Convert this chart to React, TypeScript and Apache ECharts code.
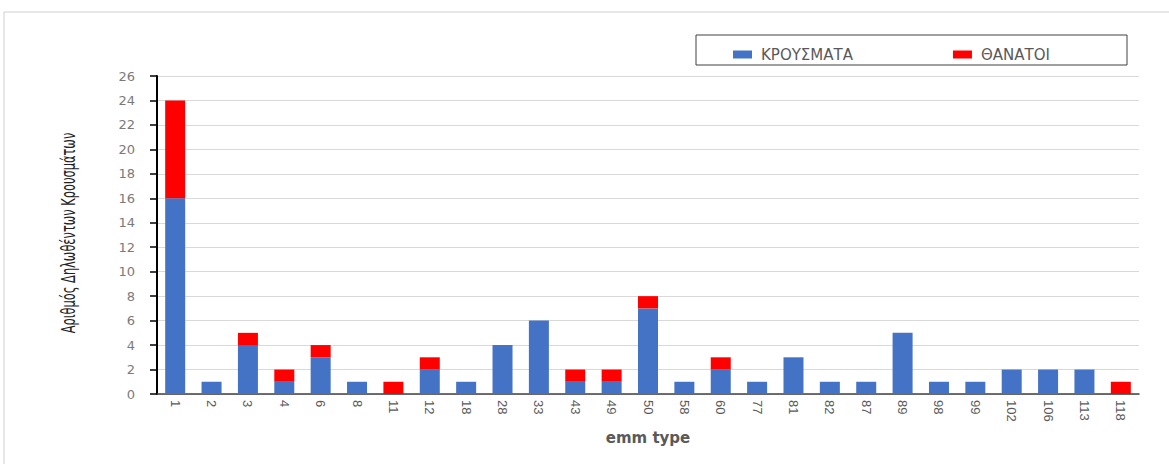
import React, { useEffect, useRef } from "react";
import * as echarts from "echarts";

const categories = ["1","2","3","4","6","8","11","12","18","28","33","43","49","50","58","60","77","81","82","87","89","98","99","102","106","113","118"];
const cases = [16,1,4,1,3,1,0,2,1,4,6,1,1,7,1,2,1,3,1,1,5,1,1,2,2,2,0];
const deaths = [8,0,1,1,1,0,1,1,0,0,0,1,1,1,0,1,0,0,0,0,0,0,0,0,0,0,1];
const seriesNames = ["ΚΡΟΥΣΜΑΤΑ", "ΘΑΝΑΤΟΙ"];
const yTitle = "Αριθμός Δηλωθέντων Κρουσμάτων";
const xTitle = "emm type";

export default function App() {
  const ref = useRef<HTMLDivElement>(null);
  useEffect(() => {
    if (!ref.current) return;
    const chart = echarts.init(ref.current, undefined, { renderer: "svg" });
    chart.setOption({
      animation: false,
      backgroundColor: "#ffffff",
      graphic: [
        { type: "rect", shape: { x: 4, y: 12, width: 1200, height: 500 }, style: { fill: "none", stroke: "#d0d0d0", lineWidth: 1 } },
        { type: "rect", shape: { x: 696, y: 35, width: 431, height: 30 }, style: { fill: "#ffffff", stroke: "#404040", lineWidth: 1 } },
        {
          type: "text",
          x: 68,
          y: 233,
          rotation: Math.PI / 2,
          scaleX: 0.6,
          style: { text: yTitle, font: "19px 'DejaVu Sans', sans-serif", fill: "#222", align: "center", verticalAlign: "middle" },
        },
      ],
      legend: {
        top: 42,
        left: 728,
        itemWidth: 19,
        itemHeight: 8,
        itemGap: 100,
        icon: "rect",
        textStyle: { color: "#595959", fontSize: 15, fontFamily: "'DejaVu Sans', Verdana, sans-serif", padding: [0, 0, 0, 4] },
        data: seriesNames,
      },
      grid: { left: 157, right: 30, top: 76, bottom: 70 },
      xAxis: {
        type: "category",
        data: categories,
        name: xTitle,
        nameLocation: "middle",
        nameGap: 36,
        nameTextStyle: { color: "#595959", fontSize: 15, fontWeight: "bold", fontFamily: "'DejaVu Sans', Verdana, sans-serif" },
        axisLine: { lineStyle: { color: "#404040", width: 1.5 } },
        axisTick: { show: false },
        axisLabel: { rotate: -90, color: "#595959", fontSize: 13, fontFamily: "'Liberation Sans', sans-serif", margin: 6 },
      },
      yAxis: {
        type: "value",
        min: 0,
        max: 26,
        interval: 2,
        axisLine: { show: true, lineStyle: { color: "#000", width: 2 } },
        axisTick: { show: true, inside: false, length: 7, lineStyle: { color: "#000", width: 1.5 } },
        axisLabel: { color: "#7a7a7a", fontSize: 13, fontFamily: "'DejaVu Sans', Verdana, sans-serif", margin: 22 },
        splitLine: { lineStyle: { color: "#d9d9d9", width: 1 } },
      },
      series: [
        { name: seriesNames[0], type: "bar", stack: "a", data: cases, barWidth: "55%", itemStyle: { color: "#4472C4" } },
        { name: seriesNames[1], type: "bar", stack: "a", data: deaths, barWidth: "55%", itemStyle: { color: "#FF0000" } },
      ],
    });
    return () => chart.dispose();
  }, []);
  return <div ref={ref} style={{ width: 1169, height: 464, position: "absolute", left: 0, top: 0 }} />;
}
